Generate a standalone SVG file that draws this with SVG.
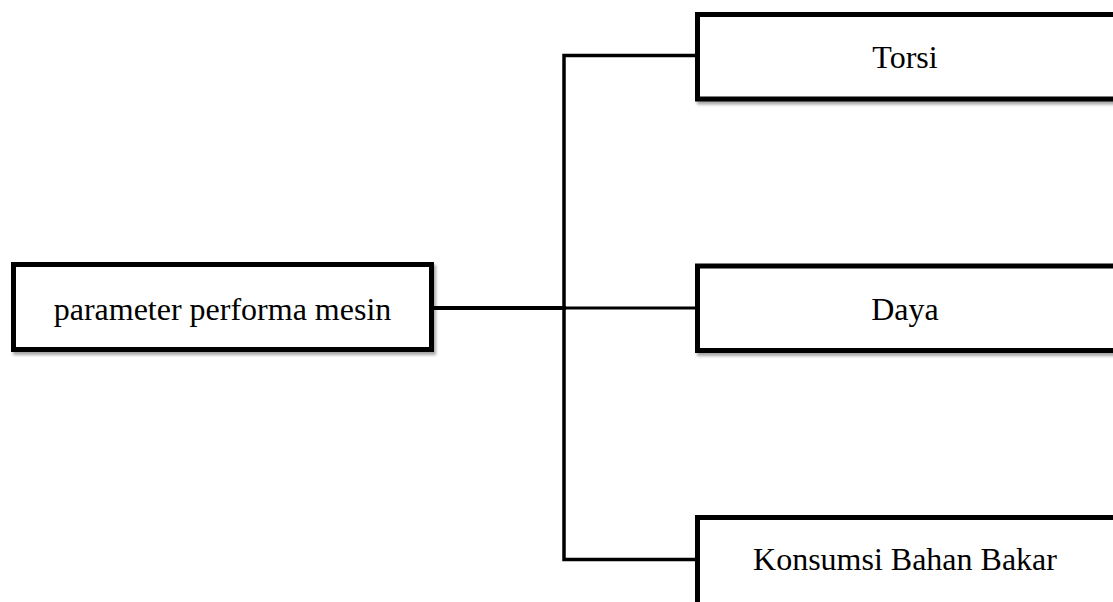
<svg xmlns="http://www.w3.org/2000/svg" width="1113" height="602" viewBox="0 0 1113 602">
  <defs>
    <filter id="shadow" x="-5%" y="-10%" width="115%" height="130%">
      <feDropShadow dx="2" dy="3" stdDeviation="1.6" flood-color="#000" flood-opacity="0.35"/>
    </filter>
  </defs>
  <style>
    .box { fill: #fff; stroke: #000; stroke-width: 5; filter: url(#shadow); }
    .label { font-family: "Liberation Serif", "Times New Roman", serif; font-size: 32px; fill: #000; text-anchor: middle; }
    .wire { fill: none; stroke: #000; stroke-linecap: square; }
  </style>

  <rect width="1113" height="602" fill="#fff"/>

  <!-- connectors -->
  <g id="connectors">
    <line class="wire" x1="434" y1="308" x2="564" y2="308" stroke-width="4"/>
    <polyline class="wire" points="697,55.5 564,55.5 564,559.5 697,559.5" stroke-width="3.5"/>
    <line class="wire" x1="564" y1="308" x2="697" y2="308" stroke-width="3"/>
  </g>

  <!-- root node -->
  <g id="node-parameter">
    <rect class="box" x="13.5" y="264.5" width="418" height="85"/>
    <text class="label" x="222.5" y="320">parameter performa mesin</text>
  </g>

  <!-- child nodes (right edges run off the canvas) -->
  <g id="node-torsi">
    <rect class="box" x="697.5" y="14.5" width="419" height="84.5"/>
    <text class="label" x="905" y="68">Torsi</text>
  </g>

  <g id="node-daya">
    <rect class="box" x="697.5" y="266" width="419" height="84.5"/>
    <text class="label" x="905" y="320">Daya</text>
  </g>

  <g id="node-konsumsi">
    <rect class="box" x="697.5" y="517.5" width="419" height="90"/>
    <text class="label" x="905" y="570">Konsumsi Bahan Bakar</text>
  </g>
</svg>
